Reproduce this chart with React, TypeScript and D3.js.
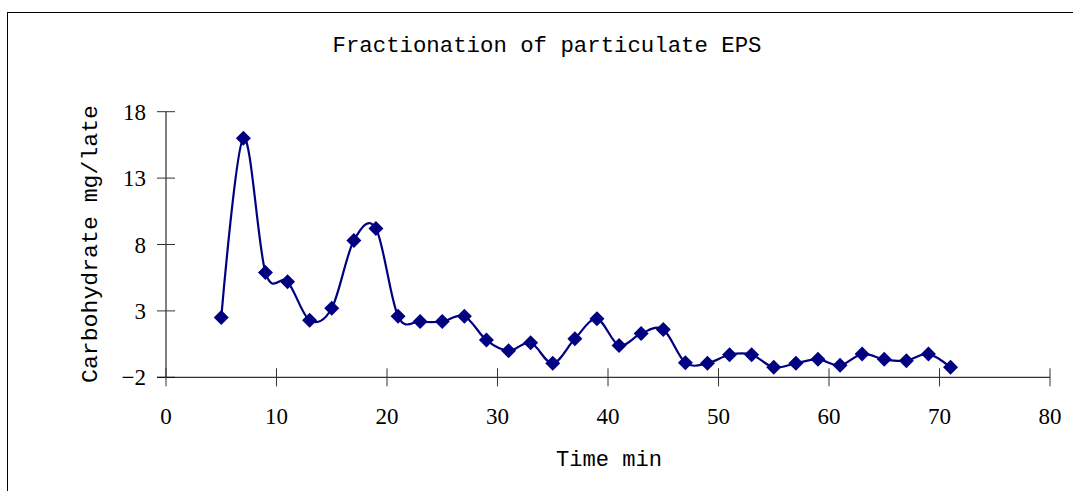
import React from "react";
import * as d3 from "d3";

const times = [5, 7, 9, 11, 13, 15, 17, 19, 21, 23, 25, 27, 29, 31, 33, 35, 37, 39, 41, 43, 45, 47, 49, 51, 53, 55, 57, 59, 61, 63, 65, 67, 69, 71];
const carbohydrate = [2.5, 16.0, 5.9, 5.2, 2.3, 3.2, 8.3, 9.2, 2.6, 2.2, 2.2, 2.6, 0.8, 0.0, 0.6, -0.95, 0.9, 2.4, 0.4, 1.3, 1.6, -0.9, -0.95, -0.3, -0.3, -1.25, -0.95, -0.65, -1.1, -0.25, -0.65, -0.75, -0.25, -1.25];
const xTicks = [0, 10, 20, 30, 40, 50, 60, 70, 80];
const yTicks = [-2, 3, 8, 13, 18];
const titleText = "Fractionation of particulate EPS";
const xLabel = "Time min";
const yLabel = "Carbohydrate mg/late";

export default function App() {
  const W = 1073, H = 491;
  const x = d3.scaleLinear().domain([0, 80]).range([166, 1050]);
  const y = d3.scaleLinear().domain([-2, 18]).range([377.3, 111.7]);
  const pts = times.map((t, i) => [x(t), y(carbohydrate[i])] as [number, number]);
  const line = d3.line().curve(d3.curveCardinal.tension(0))(pts) || "";
  const navy = "#000080";
  const mono = "'Liberation Mono', 'DejaVu Sans Mono', monospace";
  const serif = "'Liberation Serif', 'Times New Roman', serif";
  return (
    <svg width={W} height={H} style={{ position: "absolute", left: 0, top: 0, background: "#fff" }}>
      <rect x={7.5} y={12.5} width={1100} height={500} fill="#fff" stroke="#000" strokeWidth={1} />
      <text x={547} y={52} textAnchor="middle" fontFamily={mono} fontSize={22} textLength={429} lengthAdjust="spacingAndGlyphs">{titleText}</text>
      {/* y axis */}
      <line x1={166} x2={166} y1={y(18)} y2={y(-2)} stroke="#000" strokeWidth={1} />
      {yTicks.map((t) => (
        <g key={"y" + t}>
          <line x1={157} x2={175} y1={y(t)} y2={y(t)} stroke="#333" strokeWidth={1} />
          <text x={146} y={y(t) + 8} textAnchor="end" fontFamily={serif} fontSize={23}>{t < 0 ? "\u2212" + Math.abs(t) : t}</text>
        </g>
      ))}
      {/* x axis */}
      <line x1={157} x2={x(80)} y1={y(-2)} y2={y(-2)} stroke="#000" strokeWidth={1} />
      {xTicks.map((t) => (
        <g key={"x" + t}>
          <line x1={x(t)} x2={x(t)} y1={y(-2) - 9} y2={y(-2) + 9} stroke="#333" strokeWidth={1} />
          <text x={x(t)} y={424} textAnchor="middle" fontFamily={serif} fontSize={23}>{t}</text>
        </g>
      ))}
      <text x={609} y={466} textAnchor="middle" fontFamily={mono} fontSize={22} textLength={106} lengthAdjust="spacingAndGlyphs">{xLabel}</text>
      <text transform={`translate(97, 244) rotate(-90)`} textAnchor="middle" fontFamily={mono} fontSize={22} textLength={278} lengthAdjust="spacingAndGlyphs">{yLabel}</text>
      <path d={line} fill="none" stroke={navy} strokeWidth={2.2} />
      {pts.map(([px, py], i) => (
        <path key={i} d={`M${px},${py - 7.5}L${px + 7.5},${py}L${px},${py + 7.5}L${px - 7.5},${py}Z`} fill={navy} />
      ))}
    </svg>
  );
}
